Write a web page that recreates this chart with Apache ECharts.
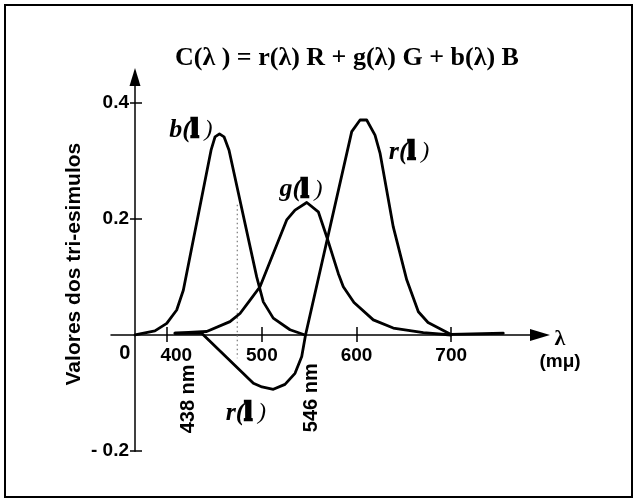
<!DOCTYPE html>
<html>
<head>
<meta charset="utf-8">
<title>Valores dos tri-esimulos</title>
<script src="https://cdn.jsdelivr.net/npm/echarts@6/dist/echarts.min.js"></script>
<style>
  html, body { margin: 0; padding: 0; background: #fff; }
  #main { width: 637px; height: 502px; }
</style>
</head>
<body>
<div id="main"></div>
<script>
// curvas [lambda (nm), valor]
var bCurve = [[366, 0], [387, 0.007], [399.5, 0.020], [410, 0.043], [417, 0.077], [446.3, 0.318],
  [450.5, 0.341], [455.2, 0.346], [460, 0.341], [465.3, 0.318], [494.5, 0.100], [501.5, 0.057],
  [512, 0.029], [529.7, 0.009], [545.6, 0]];
var gCurve = [[408.2, 0.003], [441.7, 0.006], [466.3, 0.023], [476.9, 0.037], [487.5, 0.060],
  [498, 0.083], [526.2, 0.198], [535, 0.215], [547.4, 0.228], [559.6, 0.212], [568.5, 0.169],
  [580.7, 0.106], [586, 0.083], [597.3, 0.056], [617.7, 0.026], [638.8, 0.012], [670.5, 0.004],
  [699.8, 0]];
var rCurve = [[408.2, 0.003], [436.4, 0.003], [491, -0.083], [500.1, -0.0895], [512.1, -0.0935],
  [524.4, -0.085], [535, -0.066], [542.1, -0.037], [546.1, 0], [594.9, 0.350], [603.7, 0.370],
  [610.7, 0.370], [619.5, 0.344], [624.8, 0.313], [638.8, 0.186], [653, 0.095], [665.3, 0.040],
  [675.5, 0.0215], [699.8, 0.001], [755, 0.003]];
// linha pontilhada vertical
var dottedGuide = [[474, 0.224], [474, -0.040]];

var xTicks = [400, 500, 600, 700];
var yTicks = [-0.2, 0.2, 0.4];

var X_MIN = 340.6, X_MAX = 793.8;
var Y_MIN = -0.2, Y_MAX = 0.444;

var sans = '"Liberation Sans", Arial, Helvetica, sans-serif';
var serif = '"Liberation Serif", "Times New Roman", serif';

// textos sobre o gráfico (posição em coordenadas dos eixos)
var notes = [
  { text: '{i|b(}{l|l}{p| )}', at: [425.0, 0.353] },
  { text: '{i|g(}{l|l}{p| )}', at: [541.3, 0.250] },
  { text: '{i|r(}{l|l}{p| )}', at: [655.4, 0.315] },
  { text: '{i|r(}{l|l}{p| )}', at: [483.1, -0.134] },
  { text: '{n|438 nm}', at: [422.4, -0.110], rotate: 90 },
  { text: '{n|546 nm}', at: [551.9, -0.108], rotate: 90 },
  { text: '{n|0}', at: [355.1, -0.0315] }
];

var myChart = echarts.init(document.getElementById('main'))

var axisLineStyle = { color: '#000', width: 1.5 }
var curveStyle = { color: '#000', width: 2.8, cap: 'round', join: 'round' }
var tickFont = { fontFamily: sans, fontWeight: 'bold', fontSize: 19, color: '#000' }

myChart.setOption({
  animation: false,
  backgroundColor: '#fff',
  title: {
    text: 'C(λ ) = r(λ) R + g(λ) G + b(λ) B',
    left: 175,
    top: 45,
    padding: 0,
    textStyle: { fontFamily: serif, fontWeight: 'bold', fontSize: 26, color: '#000' }
  },
  graphic: [{
    type: 'rect',
    shape: { x: 5, y: 5, width: 627, height: 492 },
    style: { fill: 'none', stroke: '#000', lineWidth: 2 },
    silent: true
  }],
  grid: { left: 111, right: 97, top: 77, bottom: 50.8, containLabel: false, outerBoundsMode: 'none' },
  xAxis: [
    {
      type: 'value',
      min: X_MIN,
      max: X_MAX,
      position: 'bottom',
      axisLine: {
        onZero: true,
        onZeroAxisIndex: 0,
        symbol: ['none', 'triangle'],
        symbolSize: [12, 20],
        lineStyle: axisLineStyle
      },
      axisTick: { show: false },
      axisLabel: { show: false },
      splitLine: { show: false },
      name: '{l|λ}\n{m|(mμ)}',
      nameLocation: 'end',
      nameGap: 20,
      nameTextStyle: {
        align: 'center',
        verticalAlign: 'middle',
        padding: [32, 0, 0, 0],
        rich: {
          l: { fontFamily: serif, fontSize: 22, fontWeight: 'bold', lineHeight: 22, color: '#000', align: 'center' },
          m: { fontFamily: sans, fontSize: 19, fontWeight: 'bold', lineHeight: 24, color: '#000', align: 'center' }
        }
      }
    },
    {
      // só marcas e rótulos (atravessam o eixo)
      type: 'value',
      min: X_MIN,
      max: X_MAX,
      position: 'bottom',
      offset: -124.2,
      axisLine: { show: false, onZero: false },
      axisTick: { show: true, length: 15, customValues: xTicks, lineStyle: axisLineStyle },
      axisLabel: {
        customValues: xTicks,
        margin: 19.6,
        fontFamily: sans,
        fontWeight: 'bold',
        fontSize: 19,
        color: '#000',
        formatter: function (v) {
          // o rótulo 400 está deslocado à direita no original
          return v === 400 ? '{s|400}' : '{t|' + v + '}'
        },
        rich: {
          s: Object.assign({ padding: [0, 0, 0, 18] }, tickFont),
          t: tickFont
        }
      },
      splitLine: { show: false }
    }
  ],
  yAxis: [
    {
      type: 'value',
      min: Y_MIN,
      max: Y_MAX,
      position: 'left',
      offset: -24,
      axisLine: {
        show: true,
        onZero: false,
        symbol: ['none', 'triangle'],
        symbolSize: [11, 18],
        lineStyle: axisLineStyle
      },
      axisTick: { show: false },
      axisLabel: { show: false },
      splitLine: { show: false },
      name: 'Valores dos tri-esimulos',
      nameLocation: 'middle',
      nameRotate: 90,
      nameGap: 50,
      nameTextStyle: { fontFamily: sans, fontWeight: 'bold', fontSize: 21, color: '#000' }
    },
    {
      type: 'value',
      min: Y_MIN,
      max: Y_MAX,
      position: 'left',
      offset: -31,
      axisLine: { show: false, onZero: false },
      axisTick: { show: true, length: 12, customValues: yTicks, lineStyle: axisLineStyle },
      axisLabel: {
        customValues: yTicks,
        margin: 13,
        fontFamily: sans,
        fontWeight: 'bold',
        fontSize: 19,
        color: '#000',
        formatter: function (v) {
          return v < 0 ? '- ' + Math.abs(v) : String(v)
        }
      },
      splitLine: { show: false }
    }
  ],
  series: [
    { name: 'b', type: 'line', data: bCurve, showSymbol: false, lineStyle: curveStyle, z: 3 },
    { name: 'g', type: 'line', data: gCurve, showSymbol: false, lineStyle: curveStyle, z: 3 },
    { name: 'r', type: 'line', data: rCurve, showSymbol: false, lineStyle: curveStyle, z: 3 },
    {
      name: 'guia',
      type: 'line',
      data: dottedGuide,
      showSymbol: false,
      lineStyle: { color: '#777', width: 1.2, type: [1.5, 3] },
      z: 2
    },
    {
      name: 'textos',
      type: 'scatter',
      symbolSize: 0,
      silent: true,
      z: 5,
      itemStyle: { opacity: 1 },
      data: notes.map(function (n) {
        return { value: n.at, label: { formatter: n.text, rotate: n.rotate || 0 } }
      }),
      label: {
        show: true,
        position: 'inside',
        color: '#000',
        opacity: 1,
        rich: {
          i: { fontFamily: serif, fontStyle: 'italic', fontWeight: 'bold', fontSize: 26, color: '#000' },
          l: { fontFamily: serif, fontWeight: 'bold', fontSize: 27, color: '#000', textBorderColor: '#000', textBorderWidth: 2.5 },
          p: { fontFamily: serif, fontStyle: 'italic', fontSize: 24, color: '#000' },
          n: { fontFamily: sans, fontWeight: 'bold', fontSize: 20, color: '#000' }
        }
      }
    }
  ]
})
window.addEventListener('resize', function () {
  myChart.resize()
})
</script>
</body>
</html>
